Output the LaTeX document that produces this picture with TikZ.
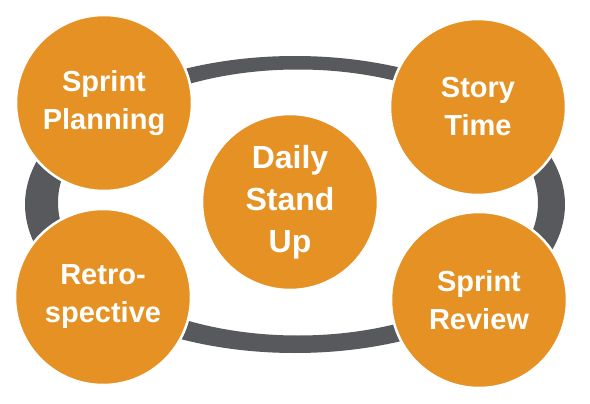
\documentclass[tikz,border=0pt]{standalone}
\usepackage{fontspec}
\setmainfont{Liberation Sans}
\definecolor{scrumorange}{HTML}{E69123}
\definecolor{ringgray}{HTML}{57595D}
\begin{document}
\begin{tikzpicture}[x=1pt,y=-1pt,
	event/.style={circle, fill=scrumorange, draw=white, line width=2.5pt, minimum size=176pt, inner sep=0pt, text=white, align=center, font=\bfseries\fontsize{29}{38}\selectfont}]
	\useasboundingbox (0,0) rectangle (590,404);
	\fill[ringgray, even odd rule] (295,204.5) ellipse [x radius=270pt, y radius=148.5pt] (298,202.5) ellipse [x radius=240pt, y radius=133pt];
	\node[event] (planning) at (104,103) {Sprint\\Planning};
	\node[event] (story) at (478,107) {Story\\Time};
	\node[event] (retro) at (103,297) {Retro-\\spective};
	\node[event] (review) at (479,300) {Sprint\\Review};
	\node[event, font=\bfseries\fontsize{32}{42}\selectfont] (standup) at (290,202) {Daily\\Stand\\Up};
\end{tikzpicture}
\end{document}
